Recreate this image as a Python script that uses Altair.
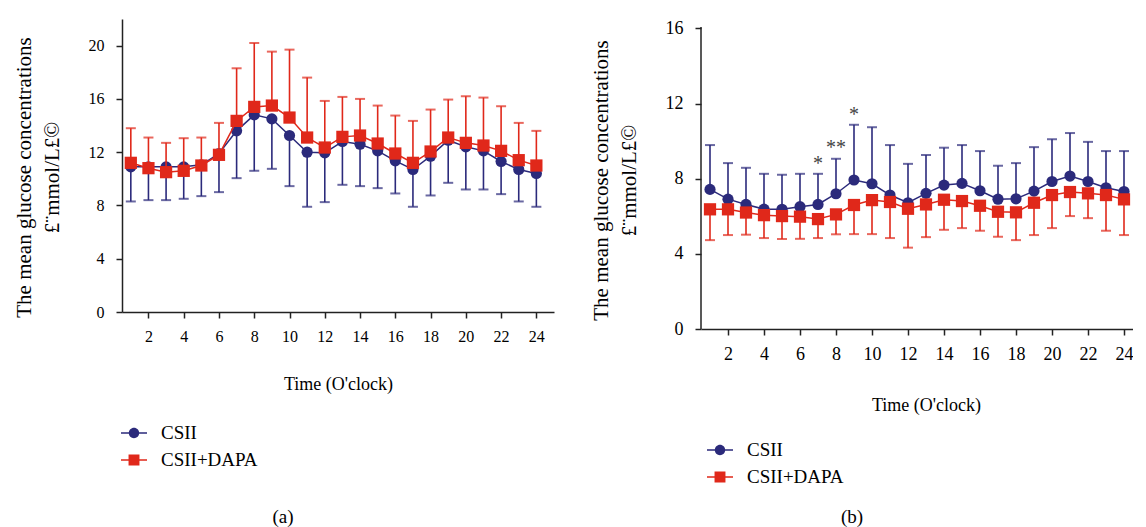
import altair as alt
import pandas as pd

# ---------------- data ----------------
hours = list(range(1, 25))
series_names = ["CSII", "CSII+DAPA"]

# panel (a)
a_csii = [10.9, 10.9, 10.9, 10.9, 11.05, 11.9, 13.6, 14.8, 14.5, 13.25, 12.0, 11.95,
          12.8, 12.6, 12.1, 11.35, 10.7, 11.7, 12.9, 12.4, 12.1, 11.3, 10.7, 10.4]
a_csii_lower = [8.3, 8.4, 8.4, 8.5, 8.7, 9.0, 10.05, 10.6, 10.75, 9.45, 7.9, 8.25,
                9.55, 9.45, 9.3, 8.9, 7.9, 8.75, 9.7, 9.2, 9.2, 8.85, 8.3, 7.9]
a_dapa = [11.2, 10.8, 10.5, 10.6, 11.0, 11.8, 14.35, 15.4, 15.5, 14.6, 13.1, 12.35,
          13.15, 13.25, 12.65, 11.9, 11.2, 12.05, 13.1, 12.7, 12.5, 12.1, 11.4, 11.0]
a_dapa_upper = [13.8, 13.1, 12.7, 13.05, 13.1, 14.2, 18.3, 20.2, 19.55, 19.7, 17.6, 15.85,
                16.15, 16.0, 15.5, 14.75, 14.35, 15.2, 15.95, 16.2, 16.1, 15.45, 14.2, 13.6]

# panel (b)
b_csii = [7.43, 6.91, 6.63, 6.38, 6.37, 6.51, 6.63, 7.2, 7.93, 7.73, 7.13, 6.72,
          7.22, 7.66, 7.75, 7.36, 6.91, 6.93, 7.34, 7.85, 8.14, 7.85, 7.52, 7.32]
b_csii_upper = [9.79, 8.83, 8.58, 8.26, 8.21, 8.26, 8.26, 9.06, 10.87, 10.74, 9.79, 8.79,
                9.26, 9.65, 9.79, 9.47, 8.69, 8.83, 9.68, 10.1, 10.43, 9.96, 9.47, 9.47]
b_dapa = [6.37, 6.37, 6.2, 6.06, 6.01, 5.98, 5.85, 6.1, 6.6, 6.86, 6.76, 6.4,
          6.63, 6.88, 6.81, 6.56, 6.24, 6.21, 6.72, 7.13, 7.29, 7.22, 7.13, 6.9]
b_dapa_lower = [4.73, 5.0, 5.02, 4.84, 4.79, 4.8, 4.84, 5.04, 5.05, 5.05, 4.84, 4.33,
                4.89, 5.28, 5.37, 5.23, 4.91, 4.73, 5.0, 5.37, 6.01, 5.9, 5.23, 5.0]

# significance marks in panel (b)
star_hours = [7, 8, 9]
star_labels = ["*", "**", "*"]
star_values = [8.94, 9.80, 11.55]

x_ticks = list(range(2, 25, 2))
y_title = ["The mean glucose concentrations", "£¨mmol/L£©"]
x_title = "Time (O'clock)"

# ---------------- style ----------------
BLUE = "#2b2a7b"
RED = "#e0281a"
FONT = "Liberation Serif"
AXIS_COLOR = "#222222"

# legend symbols: short line with the marker in the middle
PATH_CIRCLE = ("M-1,-0.06H1V0.06H-1Z "
               "M0.4,0A0.4,0.4 0 1,1 -0.4,0A0.4,0.4 0 1,1 0.4,0Z")
PATH_SQUARE = "M-1,-0.06H1V0.06H-1Z M-0.42,-0.42H0.42V0.42H-0.42Z"


def make_df(csii, csii_err, dapa, dapa_err):
    rows = []
    for h, m, e in zip(hours, csii, csii_err):
        rows.append({"hour": h, "series": series_names[0], "mean": m, "err": e})
    for h, m, e in zip(hours, dapa, dapa_err):
        rows.append({"hour": h, "series": series_names[1], "mean": m, "err": e})
    return pd.DataFrame(rows)


def panel(df, width, height, xmax, ymax, yticks, tick_fs, y_axis_line, title_y,
          x_title_x, x_title_pad, legend_x, legend_y, caption, cap_offset, cap_dx,
          stars=None):
    xscale = alt.Scale(domain=[0.5, xmax], nice=False, zero=False)
    yscale = alt.Scale(domain=[0, ymax], nice=False)
    xaxis_kw = dict(values=x_ticks, title=x_title, labelFontSize=tick_fs,
                    titleFontSize=18, titlePadding=x_title_pad, labelPadding=10,
                    labelFlush=False)
    if x_title_x is not None:
        xaxis_kw["titleX"] = x_title_x
    xaxis = alt.Axis(**xaxis_kw)
    yaxis = alt.Axis(values=yticks, title=y_title, labelFontSize=tick_fs,
                     titleFontSize=21, titleLineHeight=28, titlePadding=26,
                     labelPadding=12, titleY=title_y, domain=y_axis_line,
                     labelFlush=False)

    def X(field="hour:Q"):
        return alt.X(field, scale=xscale, axis=xaxis)

    def Y(field):
        return alt.Y(field, scale=yscale, axis=yaxis)

    base = alt.Chart(df)
    layers = []
    if not y_axis_line:
        axis_df = pd.DataFrame({"x0": [0.5], "y0": [0.0], "y1": [yticks[-1] + 0.08]})
        layers.append(
            alt.Chart(axis_df).mark_rule(color=AXIS_COLOR, strokeWidth=1.5).encode(
                x=X("x0:Q"), y=Y("y0:Q"), y2="y1:Q"))
    for name, color, shape, size in [(series_names[0], BLUE, "circle", 125),
                                     (series_names[1], RED, "square", 150)]:
        sub = base.transform_filter(alt.datum.series == name)
        layers.append(sub.mark_rule(color=color, strokeWidth=1.6).encode(
            x=X(), y=Y("mean:Q"), y2="err:Q"))
        layers.append(sub.mark_tick(color=color, orient="horizontal", size=10,
                                    thickness=2).encode(x=X(), y=Y("err:Q")))
        layers.append(sub.mark_line(color=color, strokeWidth=1.5).encode(
            x=X(), y=Y("mean:Q")))
        layers.append(sub.mark_point(shape=shape, filled=True, size=size,
                                     color=color, opacity=1).encode(
            x=X(), y=Y("mean:Q")))
    if stars is not None:
        layers.append(alt.Chart(stars).mark_text(
            font=FONT, fontSize=20, color="#444444", baseline="middle", dy=3).encode(
            x=X(), y=Y("value:Q"), text="label:N"))

    leg = alt.Legend(title=None, orient="none", legendX=legend_x, legendY=legend_y,
                     labelFont=FONT, labelFontSize=19, labelColor="black",
                     symbolSize=676, labelOffset=14, rowPadding=4, padding=0,
                     symbolStrokeWidth=0, symbolOpacity=1)
    layers.append(base.mark_point(filled=True, clip=True, opacity=1).encode(
        x=alt.value(-60), y=alt.value(-60),
        color=alt.Color("series:N", scale=alt.Scale(domain=series_names,
                                                    range=[BLUE, RED]), legend=leg),
        shape=alt.Shape("series:N", scale=alt.Scale(domain=series_names,
                                                    range=[PATH_CIRCLE, PATH_SQUARE]),
                        legend=leg)))

    return alt.layer(*layers).properties(
        width=width, height=height,
        title=alt.TitleParams(text=caption, orient="bottom", frame="group",
                              anchor="middle", offset=cap_offset, dx=cap_dx,
                              font=FONT, fontSize=19, fontWeight="normal",
                              color="black", baseline="top"))


df_a = make_df(a_csii, a_csii_lower, a_dapa, a_dapa_upper)
df_b = make_df(b_csii, b_csii_upper, b_dapa, b_dapa_lower)
stars_df = pd.DataFrame({"hour": star_hours, "label": star_labels, "value": star_values})

pa = panel(df_a, width=432, height=293, xmax=25, ymax=22, yticks=[0, 4, 8, 12, 16, 20],
           tick_fs=16, y_axis_line=True, title_y=158, x_title_x=None, x_title_pad=31,
           legend_x=-1, legend_y=401, caption="(a)", cap_offset=38, cap_dx=-55)
pb = panel(df_b, width=432, height=310, xmax=24.5, ymax=16.5, yticks=[0, 4, 8, 12, 16],
           tick_fs=18, y_axis_line=False, title_y=161, x_title_x=225, x_title_pad=33,
           legend_x=6, legend_y=418, caption="(b)", cap_offset=21, cap_dx=-65,
           stars=stars_df)

chart = alt.hconcat(pa, pb, spacing=36).resolve_scale(
    color="independent", shape="independent"
).resolve_legend(
    color="independent", shape="independent"
).properties(
    padding={"left": 5, "top": 11, "right": 0, "bottom": 0}
).configure_view(stroke=None).configure_axis(
    labelFont=FONT, titleFont=FONT, titleFontWeight="normal", labelColor="black",
    titleColor="black", grid=False, domainColor=AXIS_COLOR, tickColor=AXIS_COLOR,
    domainWidth=1.5, tickWidth=1.5, tickSize=6)

chart.save("out.html", embed_options={"renderer": "svg", "actions": False})
